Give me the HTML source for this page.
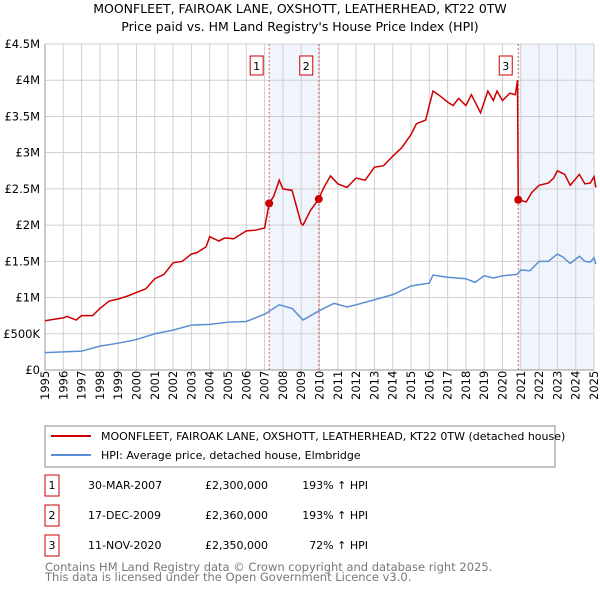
<!DOCTYPE html>
<html><head><meta charset="utf-8"><style>
body{margin:0;background:#fff;font-family:"Liberation Sans","DejaVu Sans",sans-serif;}
svg text{font-family:"DejaVu Sans","Liberation Sans",sans-serif;}
</style></head><body>
<svg id="c" width="600" height="590" xmlns="http://www.w3.org/2000/svg">
<text x="300" y="13" text-anchor="middle" font-size="12.5">MOONFLEET, FAIROAK LANE, OXSHOTT, LEATHERHEAD, KT22 0TW</text>
<text x="300" y="31" text-anchor="middle" font-size="12.5">Price paid vs. HM Land Registry's House Price Index (HPI)</text>
<g id="plot"></g>
<rect x="45" y="426" width="510" height="41" fill="#fff" stroke="#888"/>
<line x1="51" y1="436" x2="91" y2="436" stroke="#cc0000" stroke-width="2"/>
<text x="101" y="440" font-size="11">MOONFLEET, FAIROAK LANE, OXSHOTT, LEATHERHEAD, KT22 0TW (detached house)</text>
<line x1="51" y1="455" x2="91" y2="455" stroke="#5b8fd4" stroke-width="2"/>
<text x="101" y="459" font-size="11">HPI: Average price, detached house, Elmbridge</text>
<g id="tbl" font-size="11"></g>
<text x="45" y="571" font-size="11.5" fill="#777">Contains HM Land Registry data © Crown copyright and database right 2025.</text>
<text x="45" y="581" font-size="11.5" fill="#777">This data is licensed under the Open Government Licence v3.0.</text>
</svg>
<script>
const redYears=[1995,1995.5,1996,1996.2,1996.7,1997,1997.6,1998,1998.5,1999,1999.5,2000,2000.5,2001,2001.5,2002,2002.5,2003,2003.3,2003.8,2004,2004.5,2004.8,2005,2005.3,2006,2006.5,2007,2007.25,2007.5,2007.8,2008,2008.5,2009,2009.1,2009.5,2009.96,2010.2,2010.6,2011,2011.5,2012,2012.5,2013,2013.5,2014,2014.5,2015,2015.3,2015.8,2016,2016.2,2016.5,2017,2017.3,2017.6,2018,2018.3,2018.8,2019.2,2019.5,2019.7,2020,2020.4,2020.7,2020.82,2020.86,2021.3,2021.6,2022,2022.5,2022.8,2023,2023.4,2023.7,2024.2,2024.5,2024.8,2025,2025.1];
const redValues=[0.68,0.7,0.72,0.74,0.69,0.75,0.75,0.85,0.95,0.98,1.02,1.07,1.12,1.26,1.32,1.48,1.5,1.6,1.62,1.7,1.84,1.78,1.82,1.82,1.81,1.92,1.93,1.96,2.3,2.4,2.62,2.5,2.48,2.02,2.0,2.2,2.36,2.5,2.68,2.57,2.52,2.65,2.62,2.8,2.82,2.95,3.07,3.25,3.4,3.45,3.65,3.85,3.8,3.7,3.65,3.75,3.65,3.8,3.55,3.85,3.72,3.85,3.72,3.82,3.8,4.0,2.35,2.32,2.45,2.55,2.58,2.65,2.75,2.7,2.55,2.7,2.57,2.58,2.67,2.52];
const hpiYears=[1995,1996,1997,1998,1999,2000,2001,2002,2003,2004,2005,2006,2007,2007.8,2008.5,2009.1,2010,2010.8,2011.5,2012,2013,2014,2015,2016,2016.2,2017,2018,2018.5,2019,2019.5,2020,2020.8,2021,2021.5,2022,2022.5,2023,2023.3,2023.7,2024.2,2024.5,2024.8,2025,2025.1];
const hpiValues=[0.24,0.25,0.26,0.33,0.37,0.42,0.5,0.55,0.62,0.63,0.66,0.67,0.77,0.9,0.85,0.69,0.82,0.92,0.87,0.9,0.97,1.04,1.16,1.2,1.31,1.28,1.26,1.21,1.3,1.27,1.3,1.32,1.38,1.37,1.5,1.5,1.6,1.56,1.47,1.57,1.5,1.49,1.55,1.46];
const yTicks=[0,0.5,1,1.5,2,2.5,3,3.5,4,4.5];
const yTickLabels=["£0","£500K","£1M","£1.5M","£2M","£2.5M","£3M","£3.5M","£4M","£4.5M"];
const saleLabels=["1","2","3"];
const saleYears=[2007.25,2009.96,2020.86];
const saleValues=[2.3,2.36,2.35];
const saleDates=["30-MAR-2007","17-DEC-2009","11-NOV-2020"];
const salePrices=["£2,300,000","£2,360,000","£2,350,000"];
const saleHpi=["193% ↑ HPI","193% ↑ HPI","72% ↑ HPI"];

const X0=45,X1=594,Y0=370,Y1=44;
const xs=y=>X0+(y-1995)/30*(X1-X0);
const ys=v=>Y0-v/4.5*(Y0-Y1);
const NS="http://www.w3.org/2000/svg";
const P=document.getElementById('plot');
function mk(t,a,par){const e=document.createElementNS(NS,t);for(const k in a)e.setAttribute(k,a[k]);(par||P).appendChild(e);return e;}
[[saleYears[0],saleYears[1]],[saleYears[2],2025]].forEach((s,i)=>{
 const r=mk('rect',{x:xs(s[0]),y:Y1,width:xs(s[1])-xs(s[0]),height:Y0-Y1,fill:'#f0f4fc'});
 
 
});
for(let y=1995;y<=2025;y++){
 const l=mk('line',{x1:xs(y),x2:xs(y),y1:Y1,y2:Y0,stroke:'#d0d0d0'});
 
 
 const t=mk('text',{x:0,y:0,'font-size':11.5,transform:`translate(${xs(y)+4},${Y0+30}) rotate(-90)`});
 t.textContent=y;
 
 
}
yTicks.forEach((v,i)=>{
 const l=mk('line',{x1:X0,x2:X1,y1:ys(v),y2:ys(v),stroke:'#d0d0d0'});
 
 
 const t=mk('text',{x:40,y:ys(v)+4,'font-size':11.5,'text-anchor':'end'});
 t.textContent=yTickLabels[i];
 
 
});
const ax=mk('path',{d:`M${X0},${Y1}V${Y0}H${X1}`,fill:'none',stroke:'#999'});


saleYears.forEach((y,i)=>{
 const l=mk('line',{x1:xs(y),x2:xs(y),y1:Y1,y2:Y0,stroke:'#e06060','stroke-dasharray':'2,2'});
 
 
 const r=mk('rect',{x:xs(y)-19,y:56,width:13,height:19,fill:'#fff',stroke:'#cc0000'});
 
 
 const t=mk('text',{x:xs(y)-12.5,y:70,'font-size':11,'text-anchor':'middle'});
 t.textContent=saleLabels[i];
 
 
});
const hp=mk('polyline',{points:hpiYears.map((y,i)=>xs(y)+','+ys(hpiValues[i])).join(' '),fill:'none',stroke:'#5b8fd4','stroke-width':1.5});


const rp=mk('polyline',{points:redYears.map((y,i)=>xs(y)+','+ys(redValues[i])).join(' '),fill:'none',stroke:'#cc0000','stroke-width':1.5});


saleYears.forEach((y,i)=>{
 const c=mk('circle',{cx:xs(y),cy:ys(saleValues[i]),r:4,fill:'#cc0000'});
 
 
});
const T=document.getElementById('tbl');
saleLabels.forEach((s,i)=>{
 const y=485+i*30;
 const r=mk('rect',{x:45,y:y-10,width:14,height:21,fill:'#fff',stroke:'#cc0000'},T);
 
 
 const cols=[[52,s,'middle'],[88,saleDates[i],'start'],[205,salePrices[i],'start'],[368,saleHpi[i],'end']];
 cols.forEach(c=>{
  const t=mk('text',{x:c[0],y:y+4,'text-anchor':c[2]},T);
  t.textContent=c[1];
  
  
 });
});
</script>
</body></html>
